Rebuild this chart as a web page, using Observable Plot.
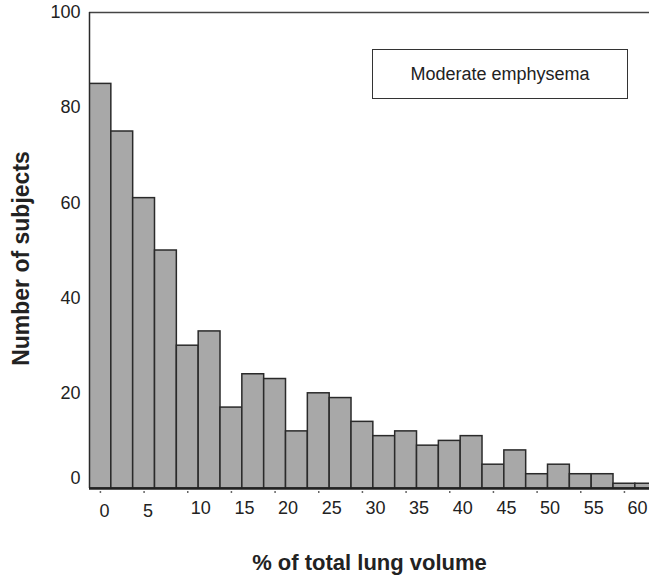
<!DOCTYPE html>
<html>
<head>
<meta charset="utf-8">
<script src="https://cdn.jsdelivr.net/npm/d3@7"></script>
<script src="https://cdn.jsdelivr.net/npm/@observablehq/plot@0.6"></script>
<style>
  body { margin: 0; background: #fff; }
  #chart { position: relative; width: 649px; height: 578px; }
  .legend {
    position: absolute; left: 372px; top: 49px; width: 256px; height: 50px;
    box-sizing: border-box; border: 1.5px solid #333; background: #fff;
    display: flex; align-items: center; justify-content: center;
    font: 18px "Liberation Sans", Arial, sans-serif; color: #222;
  }
</style>
</head>
<body>
<div id="chart"></div>
<script>
// Histogram: share of total lung volume (2.5% bins, labelled by bin centre)
const binCenters = [0, 2.5, 5, 7.5, 10, 12.5, 15, 17.5, 20, 22.5, 25, 27.5, 30,
                    32.5, 35, 37.5, 40, 42.5, 45, 47.5, 50, 52.5, 55, 57.5, 60, 62.5];
const counts = [85, 75, 61, 50, 30, 33, 17, 24, 23, 12, 20, 19, 14,
                11, 12, 9, 10, 11, 5, 8, 3, 5, 3, 3, 1, 1];
const binWidth = 2.5;
const xDomain = [-1.25, 62.87];
const yDomain = [0, 100];
const xTicksSingle = [0, 5];
const xTicksDouble = [10, 15, 20, 25, 30, 35, 40, 45, 50, 55, 60];
const xTicks = [0, 5, 10, 15, 20, 25, 30, 35, 40, 45, 50, 55, 60];
const yTicksUpper = [20, 40, 60, 80, 100];
const yTicksZero = [0];
const legendLabel = "Moderate emphysema";
const xTitle = "% of total lung volume";
const yTitle = "Number of subjects";

const bins = binCenters.map((c, i) => ({
  x1: c - binWidth / 2,
  x2: c + binWidth / 2,
  count: counts[i]
}));

const font = "'Liberation Sans', Arial, sans-serif";

const chart = Plot.plot({
  width: 649,
  height: 578,
  marginLeft: 89,
  marginRight: 0,
  marginTop: 12,
  marginBottom: 90,
  style: { fontFamily: font, color: "#222", background: "#fff", overflow: "visible" },
  x: { domain: xDomain },
  y: { domain: yDomain },
  marks: [
    Plot.rectY(bins, {
      x1: "x1", x2: "x2", y: "count",
      fill: "#a8a8a8", stroke: "#2a2a2a", strokeWidth: 1.5, clip: true
    }),
    // frame: top and left lines, heavy baseline
    Plot.ruleY([yDomain[1]], { stroke: "#444", strokeWidth: 1.5 }),
    Plot.ruleX([xDomain[0]], { stroke: "#2a2a2a", strokeWidth: 1.5 }),
    Plot.ruleY([0], { stroke: "#222", strokeWidth: 2.5 }),
    // small tick dots below the baseline
    Plot.axisX({ ticks: xTicks, tickSize: 2, dy: 3, text: null, label: null,
                 stroke: "#666", strokeWidth: 1.5 }),
    Plot.axisX({ ticks: xTicksSingle, tickSize: 0, tickPadding: 16, dx: 4,
                 fontSize: 18, label: null, fill: "#222" }),
    Plot.axisX({ ticks: xTicksDouble, tickSize: 0, tickPadding: 13, dx: 13,
                 fontSize: 18, label: null, fill: "#222" }),
    Plot.axisY({ ticks: yTicksUpper, tickSize: 0, tickPadding: 9,
                 fontSize: 18, label: null, fill: "#222" }),
    Plot.axisY({ ticks: yTicksZero, tickSize: 0, tickPadding: 9, dy: -10,
                 fontSize: 18, label: null, fill: "#222" }),
    Plot.text([xTitle], {
      frameAnchor: "bottom", dy: 74, text: d => d,
      textAnchor: "middle", lineAnchor: "middle",
      fontSize: 22, fontWeight: "bold", fill: "#222"
    }),
    Plot.text([yTitle], {
      frameAnchor: "left", dx: -68, dy: 8, rotate: -90, text: d => d,
      textAnchor: "middle", lineAnchor: "middle",
      fontSize: 23, fontWeight: "bold", fill: "#222"
    })
  ]
});

const host = document.getElementById("chart");
host.appendChild(chart);
const legend = document.createElement("div");
legend.className = "legend";
legend.textContent = legendLabel;
host.appendChild(legend);
</script>
</body>
</html>
